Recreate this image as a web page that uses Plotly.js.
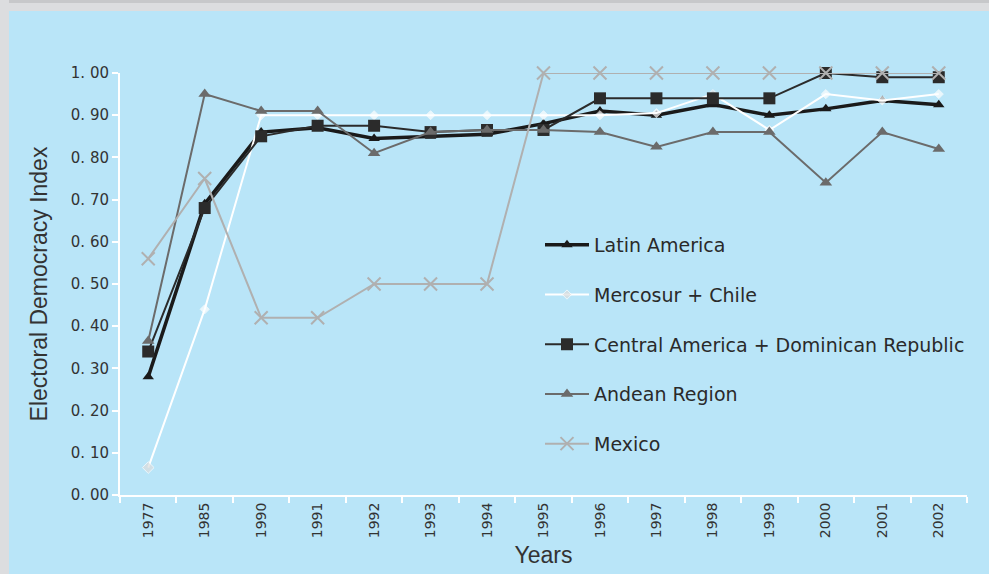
<!DOCTYPE html>
<html>
<head>
<meta charset="utf-8">
<script src="https://cdn.plot.ly/plotly-3.0.1.min.js"></script>
<style>html,body{margin:0;padding:0;background:#dcdddf;}#chart{width:989px;height:574px;}</style>
</head>
<body>
<div id="chart"></div>
<script>
const years = ['1977','1985','1990','1991','1992','1993','1994','1995','1996','1997','1998','1999','2000','2001','2002'];
const latinAmerica = [0.28,0.69,0.86,0.87,0.845,0.85,0.855,0.88,0.91,0.90,0.925,0.90,0.915,0.935,0.925];
const mercosurChile = [0.065,0.44,0.90,0.90,0.90,0.90,0.90,0.90,0.90,0.905,0.95,0.865,0.95,0.935,0.95];
const centralAmericaDR = [0.34,0.68,0.85,0.875,0.875,0.86,0.865,0.865,0.94,0.94,0.94,0.94,1.0,0.99,0.99];
const andeanRegion = [0.365,0.95,0.91,0.91,0.81,0.86,0.865,0.865,0.86,0.825,0.86,0.86,0.74,0.86,0.82];
const mexico = [0.56,0.75,0.42,0.42,0.50,0.50,0.50,1.0,1.0,1.0,1.0,1.0,1.0,1.0,1.0];
const yTickVals = [0,0.1,0.2,0.3,0.4,0.5,0.6,0.7,0.8,0.9,1.0];
const yTickText = ['0. 00','0. 10','0. 20','0. 30','0. 40','0. 50','0. 60','0. 70','0. 80','0. 90','1. 00'];

const W = 989, H = 574;
const M = {l:120, r:22, t:73, b:79};
const pw = W - M.l - M.r, ph = H - M.t - M.b;
const px = v => (v - M.l) / pw;
const py = v => (H - M.b - v) / ph;

const mercColors = mercosurChile.map((v,i) => (i===0 || i===10) ? '#dddddd' : '#ffffff');
const mercSizes = mercosurChile.map((v,i) => i===0 ? 9 : 7);

const traces = [
  {x: years, y: latinAmerica, name: 'Latin America', legendgroup:'a', type:'scatter', mode:'lines+markers',
   line:{color:'#1a1a1a', width:3.5}, marker:{symbol:'triangle-up', size:10, color:'#1a1a1a'}, cliponaxis:false},
  {x: years, y: mercosurChile, name: 'Mercosur + Chile', legendgroup:'b', type:'scatter', mode:'lines+markers',
   line:{color:'#ffffff', width:2}, marker:{symbol:'diamond', size:mercSizes, color:mercColors}, cliponaxis:false},
  {x: years, y: centralAmericaDR, name: 'Central America + Dominican Republic', legendgroup:'c', type:'scatter', mode:'lines+markers',
   line:{color:'#2b2b2b', width:2}, marker:{symbol:'square', size:12, color:'#2b2b2b'}, cliponaxis:false},
  {x: years, y: andeanRegion, name: 'Andean Region', legendgroup:'d', type:'scatter', mode:'lines+markers',
   line:{color:'#6b6b6b', width:2}, marker:{symbol:'triangle-up', size:11, color:'#6b6b6b'}, cliponaxis:false},
  {x: years, y: mexico, name: 'Mexico', legendgroup:'e', type:'scatter', mode:'lines+markers',
   line:{color:'#b0b0b0', width:2}, marker:{symbol:'x-thin', size:13, color:'#b0b0b0', line:{color:'#b0b0b0', width:2}}, cliponaxis:false}
];

const layout = {
  width: W, height: H,
  margin: M,
  paper_bgcolor: '#dcdddf',
  plot_bgcolor: 'rgba(0,0,0,0)',
  showlegend: true,
  font: {family: 'DejaVu Sans', color: '#333333'},
  shapes: [
    {type:'rect', xref:'paper', yref:'paper', layer:'below', line:{width:0}, fillcolor:'#b9e5f8',
     x0: px(9), x1: px(989), y0: py(574), y1: py(11)},
    {type:'rect', xref:'paper', yref:'paper', layer:'below', line:{width:0}, fillcolor:'#c7c8ca',
     x0: px(9), x1: px(989), y0: py(3), y1: py(0)}
  ],
  xaxis: {
    type:'category', categoryorder:'array', categoryarray: years,
    range:[-0.5, years.length - 0.5],
    showline:true, linecolor:'#ffffff', linewidth:2,
    ticks:'outside', tickson:'boundaries', ticklen:6, tickwidth:2, tickcolor:'#ffffff',
    tickangle:-90, tickfont:{family:'DejaVu Sans', size:14, color:'#333333'},
    showgrid:false, zeroline:false,
    title:{text:'Years', font:{family:'Liberation Sans', size:23, color:'#333333'}, standoff:10}
  },
  yaxis: {
    range:[0,1], tickmode:'array', tickvals:yTickVals, ticktext:yTickText,
    showline:true, linecolor:'#ffffff', linewidth:2,
    ticks:'outside', ticklen:6, tickwidth:2, tickcolor:'#ffffff',
    tickfont:{family:'DejaVu Sans', size:15, color:'#333333'},
    showgrid:false, zeroline:false,
    title:{text:'Electoral Democracy Index', font:{family:'Liberation Sans', size:23, color:'#333333'}, standoff:17}
  },
  legend: {
    x: px(540), y: py(226), xanchor:'left', yanchor:'top',
    bgcolor:'rgba(0,0,0,0)', borderwidth:0,
    font:{family:'DejaVu Sans', size:19, color:'#2a2a2a'},
    tracegroupgap: 22, traceorder:'grouped', itemwidth:44
  }
};

Plotly.newPlot('chart', traces, layout, {displayModeBar:false, staticPlot:true});
</script>
</body>
</html>
